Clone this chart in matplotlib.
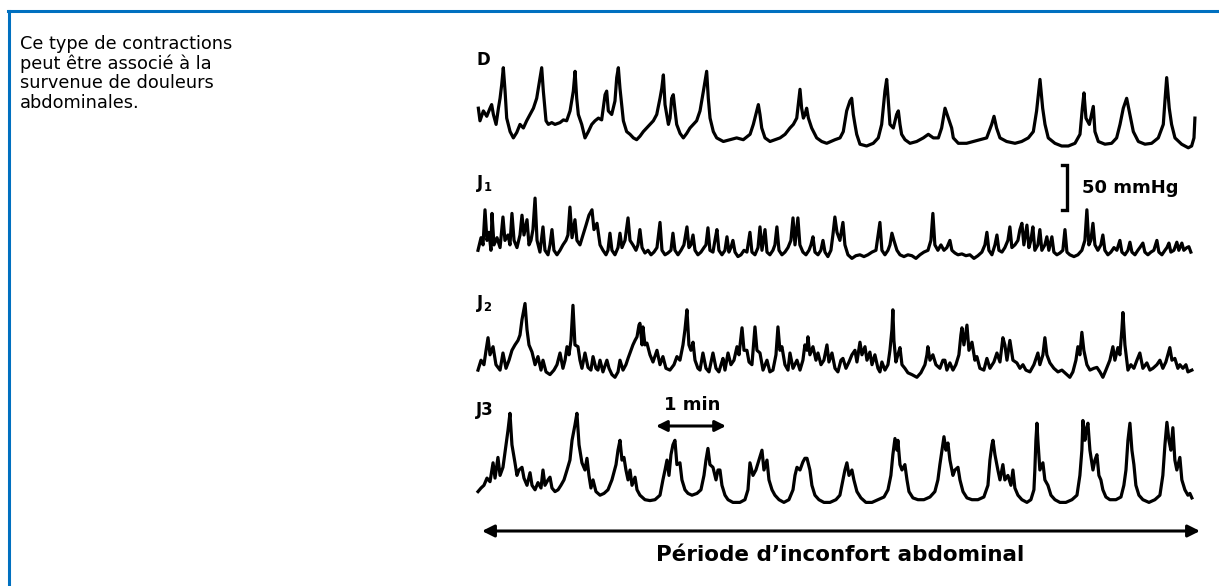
import matplotlib
matplotlib.use("Agg")
import matplotlib.pyplot as plt
import numpy as np
from matplotlib.lines import Line2D

# ---------------- data (time in s, pressure in mmHg above trace baseline) ----------------
t_D = [0.3, 1.7, 4.6, 7.5, 10.3, 11.7, 13.2, 15.5, 17.5, 18.9, 20.3, 21.7, 23.2, 24.6, 27.5, 30.3, 33.2, 36.0,
       38.9, 41.7, 44.6, 47.5, 50.3, 53.2, 54.6, 56.0, 58.3, 60.3, 63.2, 66.0, 70.3, 73.2, 76.0, 78.9, 81.7,
       83.2, 84.6, 86.0, 88.9, 91.7, 94.6, 97.5, 100.3, 103.2, 106.0, 108.9, 110.3, 111.7, 114.6, 117.4,
       118.9, 120.3, 121.7, 124.6, 127.4, 130.3, 133.2, 136.0, 138.9, 141.7, 144.6, 147.4, 150.3, 153.2,
       156.0, 157.5, 158.9, 160.3, 163.2, 164.6, 166.0, 167.4, 168.9, 170.3, 173.2, 176.0, 178.9, 181.7,
       184.6, 187.4, 190.3, 193.2, 196.0, 197.4, 198.9, 201.7, 204.6, 210.3, 216.0, 221.7, 227.4, 233.2,
       236.0, 238.9, 240.3, 241.7, 243.2, 246.0, 250.3, 254.6, 258.9, 263.2, 267.4, 270.3, 273.2, 276.0,
       277.4, 278.9, 280.3, 281.7, 283.2, 286.0, 290.3, 294.6, 298.9, 306.0, 310.3, 313.1, 316.0, 318.8,
       320.3, 321.7, 323.1, 324.6, 327.4, 333.1, 338.8, 343.1, 346.0, 348.8, 350.3, 351.7, 353.1, 356.0,
       358.8, 360.3, 361.7, 363.1, 366.0, 370.3, 376.0, 381.7, 386.0, 390.3, 394.6, 397.4, 400.3, 403.1,
       406.0, 407.4, 411.7, 418.8, 424.5, 430.3, 436.0, 440.3, 442.3, 444.5, 447.4, 453.1, 460.3, 466.0,
       471.7, 476.0, 478.8, 481.7, 484.0, 486.0, 488.8, 494.5, 500.3, 506.0, 511.7, 516.0, 518.0, 519.4,
       521.1, 524.0, 527.4, 528.8, 531.7, 537.4, 543.1, 547.4, 550.3, 553.1, 556.0, 558.8, 561.7, 566.0,
       571.7, 577.4, 583.1, 587.4, 588.8, 590.3, 592.5, 594.5, 597.4, 603.1, 608.8, 611.7, 613.7, 614.5]
p_D = [42, 28, 39, 33, 42, 46, 35, 24, 42, 53, 68, 87, 61, 31, 16, 9, 15, 24,
       20, 28, 35, 42, 53, 76, 87, 61, 28, 24, 26, 24, 26, 29, 28, 39, 61,
       83, 53, 35, 24, 9, 16, 24, 28, 31, 29, 57, 61, 39, 35, 50,
       76, 87, 64, 28, 16, 13, 9, 7, 11, 16, 20, 24, 28, 35,
       53, 64, 79, 46, 24, 31, 53, 57, 39, 24, 14, 9, 14, 20,
       24, 28, 39, 61, 83, 53, 31, 16, 9, 5, 7, 9, 7, 13,
       24, 39, 46, 35, 20, 9, 5, 7, 9, 13, 20, 24, 31, 63,
       42, 31, 35, 42, 31, 20, 9, 5, 3, 7, 9, 16, 39, 50,
       53, 35, 24, 13, 2, 0, 3, 9, 24, 61, 74, 50, 24, 20,
       35, 39, 24, 13, 7, 3, 5, 9, 13, 9, 9, 20, 42, 31,
       20, 9, 3, 3, 5, 7, 9, 24, 33, 20, 9, 5, 3, 5,
       9, 16, 39, 74, 42, 24, 9, 3, 0, 0, 3, 13, 42, 59,
       31, 24, 44, 16, 5, 2, 3, 9, 24, 42, 53, 35, 16, 5,
       2, 3, 9, 24, 50, 76, 42, 24, 9, 2, -2, 0, 9, 31]

t_J1 = [0, 2.6, 4.3, 6.0, 7.7, 9.4, 11.1, 12.0, 13.7, 16.3, 18.9, 21.4, 23.1, 25.7, 27.4, 29.1, 30.9, 33.4,
        36.0, 37.7, 39.4, 42.0, 43.7, 45.4, 47.1, 48.9, 50.6, 53.1, 55.7, 57.4, 60.0, 61.7, 63.4, 65.1,
        67.7, 70.3, 72.8, 75.4, 77.1, 78.8, 80.6, 83.1, 84.8, 87.4, 90.0, 92.6, 95.1, 97.7, 99.4, 102.0,
        104.6, 107.1, 109.7, 111.4, 113.1, 114.8, 117.4, 120.0, 121.7, 123.4, 126.0, 128.6, 130.3, 132.8,
        135.4, 137.1, 138.8, 140.6, 143.1, 145.7, 148.3, 150.8, 153.4, 156.0, 157.7, 160.3, 162.8, 165.4,
        167.1, 168.8, 171.4, 174.0, 176.5, 179.1, 180.8, 182.5, 184.3, 186.0, 188.5, 191.1, 193.7, 195.4,
        197.1, 198.8, 201.4, 203.1, 204.8, 206.5, 209.1, 211.7, 213.4, 215.1, 216.8, 218.5, 220.3, 222.8,
        225.4, 228.0, 230.5, 233.1, 234.8, 237.4, 240.0, 241.7, 243.4, 246.0, 247.7, 250.2, 252.8, 254.5,
        256.2, 258.0, 260.5, 263.1, 265.7, 268.2, 270.0, 271.7, 274.2, 275.9, 278.5, 281.1, 283.7, 285.4,
        287.1, 288.8, 291.4, 293.9, 295.7, 297.4, 299.9, 302.5, 304.2, 305.9, 307.7, 310.2, 312.8, 314.5,
        317.1, 320.5, 323.9, 327.4, 330.8, 334.2, 337.7, 341.1, 344.5, 346.2, 348.8, 351.4, 353.1, 354.8,
        356.5, 359.1, 361.7, 365.1, 368.5, 371.9, 375.4, 378.8, 382.2, 385.7, 388.2, 389.9, 391.6, 394.2,
        396.8, 399.4, 401.9, 404.5, 406.2, 408.8, 411.4, 414.8, 418.2, 421.6, 425.1, 428.5, 431.9, 434.5,
        436.2, 437.9, 440.5, 443.1, 444.8, 446.5, 449.1, 451.6, 454.2, 455.9, 457.6, 460.2, 462.8, 464.5,
        466.2, 467.9, 470.5, 472.2, 473.9, 475.6, 477.3, 479.9, 481.6, 483.3, 485.9, 487.6, 489.3, 491.9,
        493.6, 496.2, 498.8, 501.3, 503.1, 504.8, 507.3, 510.8, 514.2, 517.6, 520.2, 521.9, 523.6, 525.3,
        527.1, 528.8, 531.3, 533.9, 535.6, 537.3, 539.9, 542.5, 545.1, 547.6, 550.2, 551.9, 554.5, 557.1,
        558.8, 560.5, 563.1, 565.6, 567.3, 569.9, 571.6, 574.2, 576.8, 579.3, 581.9, 583.6, 586.2, 588.8,
        590.5, 592.2, 593.9, 596.5, 599.0, 600.7, 603.3, 605.0, 607.6, 609.3, 611.0]
p_J1 = [13, 27, 19, 58, 24, 33, 13, 54, 19, 27, 16, 50, 24, 30, 19, 54, 24, 16,
        30, 52, 30, 47, 19, 24, 36, 71, 24, 11, 39, 13, 8, 19, 36, 13,
        8, 13, 19, 24, 30, 61, 27, 47, 24, 19, 30, 41, 52, 58, 36, 43,
        19, 13, 8, 13, 32, 13, 8, 16, 32, 16, 24, 49, 24, 19,
        13, 19, 36, 16, 10, 13, 8, 11, 16, 44, 13, 8, 10, 13,
        32, 13, 8, 13, 19, 39, 16, 19, 30, 13, 8, 11, 16, 19,
        38, 13, 11, 24, 36, 13, 8, 13, 28, 11, 16, 24, 11, 6,
        8, 13, 11, 33, 11, 8, 16, 39, 13, 36, 11, 8, 13, 19,
        39, 13, 8, 11, 16, 24, 49, 19, 49, 19, 11, 8, 13, 19,
        28, 11, 8, 13, 24, 11, 6, 13, 30, 50, 33, 24, 44, 19,
        8, 4, 7, 8, 6, 8, 11, 13, 44, 13, 8, 13, 19, 32,
        24, 13, 8, 6, 8, 7, 4, 8, 11, 13, 24, 54, 19, 13,
        19, 13, 16, 24, 13, 10, 8, 9, 7, 8, 4, 7, 11, 19,
        33, 13, 8, 19, 30, 13, 11, 16, 24, 39, 16, 19, 24, 36,
        43, 19, 41, 16, 24, 39, 13, 19, 36, 13, 19, 28, 13, 28,
        11, 8, 10, 13, 36, 11, 8, 6, 8, 13, 24, 58, 19, 24,
        43, 19, 13, 19, 30, 13, 8, 11, 16, 13, 24, 11, 8, 13,
        22, 11, 8, 13, 16, 21, 11, 8, 11, 13, 24, 11, 8, 13,
        16, 21, 11, 13, 22, 13, 21, 13, 16, 17, 11]

t_J2 = [0, 2.6, 5.1, 6.9, 8.6, 10.3, 12.9, 15.4, 18.9, 21.4, 24.0, 26.6, 29.1, 31.7, 34.3, 36.0, 37.7, 40.3,
        42.0, 43.7, 46.3, 48.9, 51.4, 54.0, 55.7, 58.3, 61.7, 65.1, 67.7, 70.3, 72.8, 74.6, 76.3, 78.0,
        79.7, 81.4, 83.1, 85.7, 87.4, 89.1, 91.7, 94.3, 96.8, 98.6, 101.1, 102.8, 104.6, 107.1, 110.5,
        112.3, 114.8, 117.4, 120.0, 121.7, 124.3, 126.8, 128.6, 130.3, 132.8, 134.6, 136.3, 138.0, 138.8,
        140.6, 141.4, 143.1, 144.8, 147.4, 150.0, 153.4, 156.0, 158.5, 161.1, 164.5, 168.0, 170.5, 173.1,
        175.7, 177.4, 179.1, 180.8, 182.5, 184.3, 186.0, 188.5, 190.3, 192.8, 195.4, 198.0, 201.4, 204.0,
        206.5, 208.3, 210.0, 211.7, 214.3, 216.8, 219.4, 222.0, 223.7, 226.3, 228.0, 230.5, 232.3, 234.8,
        237.4, 239.1, 241.7, 244.3, 247.7, 250.2, 252.8, 255.4, 257.1, 258.8, 260.5, 263.1, 265.7, 267.4,
        270.0, 273.4, 276.0, 278.5, 280.2, 282.0, 282.8, 284.5, 287.1, 289.7, 291.4, 294.0, 296.5, 299.1,
        300.8, 303.4, 306.0, 308.5, 311.1, 312.8, 315.4, 318.0, 320.5, 323.1, 324.8, 327.4, 329.1, 331.7,
        333.4, 335.9, 337.7, 340.2, 342.8, 344.5, 346.2, 348.8, 351.4, 353.1, 354.8, 355.6, 356.5, 358.2,
        359.9, 361.7, 363.4, 365.9, 368.5, 371.9, 376.2, 379.6, 383.1, 384.8, 385.6, 387.4, 389.9, 392.5,
        395.9, 398.5, 400.2, 401.9, 404.5, 407.1, 409.6, 412.2, 413.9, 414.8, 416.5, 419.1, 420.8, 423.4,
        425.9, 427.6, 430.2, 433.6, 436.2, 438.8, 442.2, 444.8, 447.4, 449.9, 451.6, 453.4, 455.9, 458.5,
        461.9, 464.5, 467.1, 469.6, 473.1, 476.5, 479.9, 481.6, 484.2, 485.9, 487.6, 490.2, 493.6, 497.1,
        500.5, 503.9, 507.3, 509.9, 512.5, 514.2, 515.9, 517.6, 519.3, 521.9, 524.5, 527.9, 530.5, 533.1,
        535.6, 538.2, 541.6, 544.2, 545.9, 548.5, 550.2, 551.9, 552.8, 554.5, 557.1, 559.6, 562.2, 564.8,
        567.3, 569.9, 573.3, 575.9, 578.5, 581.9, 584.5, 587.0, 589.6, 593.0, 594.8, 597.3, 599.9, 601.6,
        604.2, 606.8, 608.5, 611.9]
p_J2 = [11, 22, 17, 33, 47, 28, 37, 17, 11, 30, 13, 22, 33, 39, 44, 50, 67, 85,
        56, 39, 31, 17, 26, 11, 22, 9, 6, 11, 17, 30, 13, 22, 37, 28,
        44, 83, 39, 37, 22, 13, 30, 14, 11, 26, 13, 11, 22, 9, 22,
        13, 6, 3, 9, 22, 11, 17, 24, 30, 39, 44, 48, 61, 63,
        39, 59, 39, 41, 28, 20, 33, 17, 26, 13, 11, 17, 26, 22,
        39, 56, 78, 39, 33, 42, 22, 13, 11, 30, 13, 9, 30, 13,
        9, 17, 24, 11, 30, 17, 22, 37, 28, 58, 33, 33, 20, 17,
        59, 33, 30, 11, 22, 9, 11, 28, 59, 33, 37, 17, 11, 30,
        13, 22, 11, 22, 39, 33, 48, 28, 37, 22, 30, 17, 22, 39,
        20, 30, 13, 9, 22, 24, 13, 20, 28, 33, 20, 42, 28, 37,
        22, 31, 17, 28, 13, 9, 20, 11, 17, 33, 56, 78, 44, 20,
        28, 36, 17, 13, 8, 6, 3, 8, 17, 28, 37, 22, 28, 17,
        13, 22, 22, 11, 19, 11, 17, 28, 50, 58, 39, 61, 33, 42,
        22, 26, 13, 11, 24, 13, 20, 30, 20, 47, 39, 22, 44, 22,
        19, 13, 17, 11, 9, 17, 30, 17, 28, 47, 28, 19, 13, 9,
        11, 7, 3, 9, 22, 37, 28, 53, 33, 17, 11, 13, 14, 9,
        3, 11, 22, 37, 22, 36, 28, 56, 75, 39, 11, 17, 13, 22,
        30, 13, 19, 11, 13, 17, 22, 13, 20, 36, 22, 24, 13, 17,
        13, 17, 9, 11]

t_J3 = [0, 2.6, 5.1, 7.7, 10.3, 12.9, 14.6, 17.1, 18.9, 21.4, 24.0, 25.7, 27.4, 29.1, 31.7, 33.4, 35.1, 37.7,
        39.4, 42.0, 44.6, 46.3, 48.9, 51.4, 54.0, 55.7, 57.4, 60.0, 61.7, 63.4, 66.0, 68.6, 71.1, 73.7,
        76.3, 78.8, 80.6, 83.1, 84.8, 86.6, 89.1, 91.7, 93.4, 95.1, 96.8, 98.6, 101.1, 104.6, 108.0, 111.4,
        114.8, 118.3, 120.0, 121.7, 123.4, 125.1, 126.8, 128.6, 130.3, 132.0, 134.6, 136.3, 138.8, 143.1,
        147.4, 151.7, 156.0, 158.5, 160.3, 162.0, 163.7, 165.4, 167.1, 168.8, 170.5, 173.1, 174.8, 177.4,
        180.0, 183.4, 187.7, 191.1, 193.7, 195.4, 197.1, 198.8, 201.4, 204.0, 205.7, 207.4, 209.1, 211.7,
        214.3, 218.5, 224.5, 228.8, 231.4, 233.1, 235.7, 238.2, 240.8, 243.4, 245.1, 247.7, 249.4, 252.0,
        254.5, 258.0, 262.2, 266.5, 270.0, 271.7, 273.4, 276.0, 278.5, 280.2, 282.0, 284.5, 286.2, 288.8,
        292.2, 296.5, 301.7, 306.8, 310.2, 312.8, 314.5, 316.2, 318.0, 320.5, 322.2, 324.8, 328.2, 332.5,
        337.7, 342.8, 348.0, 351.4, 353.9, 355.6, 357.4, 359.1, 359.9, 361.7, 363.4, 365.9, 367.7, 369.4,
        372.8, 377.1, 382.2, 387.4, 391.6, 394.2, 395.9, 397.7, 399.4, 401.1, 402.8, 404.5, 407.1, 408.8,
        411.4, 413.1, 415.7, 419.1, 423.4, 428.5, 433.6, 437.1, 438.8, 440.5, 441.4, 443.1, 445.6, 447.4,
        449.9, 451.6, 454.2, 456.8, 458.5, 460.2, 462.8, 466.2, 470.5, 473.9, 476.5, 477.3, 478.2, 479.1,
        479.9, 481.6, 484.2, 485.9, 488.5, 491.1, 494.5, 498.8, 503.9, 509.1, 513.4, 515.9, 517.6, 518.5,
        520.2, 521.1, 522.8, 524.5, 527.1, 528.8, 530.5, 532.2, 533.9, 535.6, 538.2, 541.6, 546.8, 551.1,
        553.6, 555.4, 557.1, 558.8, 560.5, 562.2, 563.9, 566.5, 569.9, 575.1, 580.2, 584.5, 587.0, 588.8,
        590.5, 592.2, 593.9, 595.6, 597.3, 599.0, 601.6, 603.3, 605.9, 608.5, 610.2, 611.9]
p_J3 = [6, 10, 13, 21, 17, 38, 21, 44, 24, 33, 58, 74, 93, 58, 38, 24, 30, 33,
        21, 13, 27, 13, 8, 16, 10, 30, 13, 19, 22, 10, 6, 8, 13, 19,
        30, 41, 63, 80, 93, 58, 38, 30, 43, 24, 10, 19, 6, 2, 4, 8,
        19, 36, 52, 63, 41, 44, 30, 19, 30, 13, 22, 8, 2, -3,
        -4, -3, 2, 19, 30, 41, 24, 47, 58, 63, 36, 38, 19, 8,
        4, 2, 4, 8, 24, 41, 54, 36, 33, 19, 30, 30, 13, 2,
        -3, -6, -6, -3, 8, 38, 24, 30, 41, 52, 30, 41, 19, 8,
        2, -3, -6, -3, 8, 24, 33, 30, 39, 43, 43, 30, 13, 2,
        -3, -6, -6, -3, 2, 19, 30, 38, 24, 30, 19, 6, -1, -6,
        -6, -3, 0, 8, 24, 47, 65, 52, 63, 36, 30, 36, 19, 6,
        -1, -3, -3, 0, 6, 19, 36, 52, 67, 52, 60, 41, 24, 30,
        33, 19, 6, -1, -3, -3, 0, 13, 41, 58, 63, 47, 30, 19,
        36, 19, 24, 13, 30, 10, 2, -3, -6, -3, 8, 30, 63, 82,
        63, 30, 38, 19, 13, 2, -3, -6, -6, -3, 2, 24, 52, 85,
        63, 74, 82, 52, 30, 41, 47, 24, 19, 8, 0, -3, -3, 0,
        13, 30, 63, 82, 52, 36, 13, 2, -3, -6, -3, 2, 24, 58,
        83, 63, 52, 77, 41, 30, 44, 19, 8, 2, 4, -1]

trace_labels = ["D", r"$\mathbf{J_1}$", r"$\mathbf{J_2}$", "J3"]
scale_mmhg = 50      # vertical calibration bar
scale_min = 1        # horizontal calibration arrow
caption = "Ce type de contractions\npeut être associé à la\nsurvenue de douleurs\nabdominales."
period_label = "Période d\u2019inconfort abdominal"

# ---------------- layout (pixels of the 1219x586 canvas) ----------------
W, H = 1219, 586
PX_PER_MIN = 70.0
PX_PER_MMHG = 0.9
X0 = 478                        # pixel where the traces start
base_px = [146, 262, 380, 497]  # pixel row of each trace's zero level

fig = plt.figure(figsize=(W / 100, H / 100), dpi=100)
ax = fig.add_axes([0, 0, 1, 1])
ax.set_xlim(-X0 / PX_PER_MIN, (W - X0) / PX_PER_MIN)
ax.set_ylim(0, H / PX_PER_MMHG)
ax.axis("off")


def ymm(py):
    return (H - py) / PX_PER_MMHG


traces = [(t_D, p_D), (t_J1, p_J1), (t_J2, p_J2), (t_J3, p_J3)]
for (tt, pp), bp in zip(traces, base_px):
    tt = np.asarray(tt) / 60.0
    pp = np.asarray(pp, dtype=float)
    ax.plot(tt, pp + ymm(bp), color="black", lw=2.3, solid_joinstyle="round")

# labels of the traces
label_px = [(476, 60), (476, 183), (476, 303), (476, 410)]
for lab, (lx, ly) in zip(trace_labels, label_px):
    fig.text(lx / W, 1 - ly / H, lab, fontsize=12, fontweight="bold", va="center", ha="left")

# calibration bar 50 mmHg
bx = (1067 - X0) / PX_PER_MIN
btop = ymm(165)
ax.plot([bx - 0.07, bx, bx, bx - 0.07], [btop, btop, btop - scale_mmhg, btop - scale_mmhg],
        color="black", lw=2.4, solid_joinstyle="miter")
fig.text(1082 / W, 1 - 188 / H, f"{scale_mmhg} mmHg", fontsize=13, fontweight="bold",
         va="center", ha="left")

# 1 min arrow
ax0 = (656 - X0) / PX_PER_MIN
ay = ymm(426)
ax.annotate("", xy=(ax0 + scale_min, ay), xytext=(ax0, ay),
            arrowprops=dict(arrowstyle="<|-|>", color="black", lw=2.2, mutation_scale=16,
                            shrinkA=0, shrinkB=0))
fig.text(692 / W, 1 - 405 / H, f"{scale_min} min", fontsize=13, fontweight="bold",
         va="center", ha="center")

# period arrow
py_ = ymm(531)
ax.annotate("", xy=((1200 - X0) / PX_PER_MIN, py_), xytext=((482 - X0) / PX_PER_MIN, py_),
            arrowprops=dict(arrowstyle="<|-|>", color="black", lw=2.2, mutation_scale=18,
                            shrinkA=0, shrinkB=0))
fig.text(840 / W, 1 - 555 / H, period_label, fontsize=15.5, fontweight="bold",
         va="center", ha="center")

# caption text
fig.text(20 / W, 1 - 35 / H, caption, fontsize=12.8, va="top", ha="left", linespacing=1.1,
         family="DejaVu Sans")

# blue frame
blue = "#0070C0"
fig.add_artist(Line2D([8 / W, 1], [1 - 10.5 / H, 1 - 10.5 / H], transform=fig.transFigure,
                      color=blue, lw=2.2))
fig.add_artist(Line2D([8.5 / W, 8.5 / W], [0, 1 - 10.5 / H], transform=fig.transFigure,
                      color=blue, lw=2.2))

fig.savefig("out.png", dpi=100)
